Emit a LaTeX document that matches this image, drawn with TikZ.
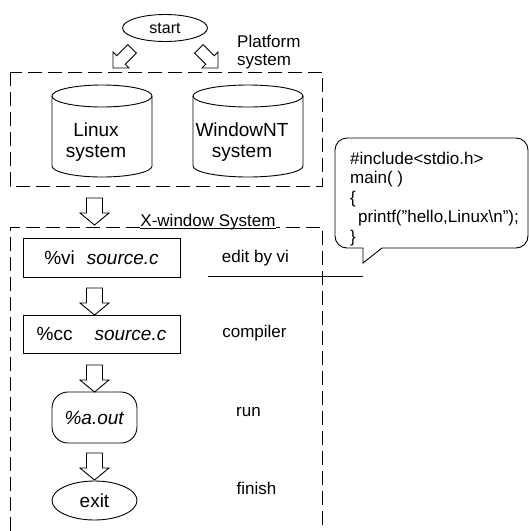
\documentclass[tikz,border=0pt]{standalone}
\usepackage{fontspec}
\setmainfont{Liberation Sans}
\usetikzlibrary{shapes.geometric}
\begin{document}
\begin{tikzpicture}[x=1pt,y=-1pt,
  every node/.style={font=\fontsize{17}{19.5}\selectfont, inner sep=0pt},
  shapeline/.style={draw, line width=0.9pt},
  dashline/.style={draw, line width=0.9pt, dash pattern=on 14pt off 6pt},
  blockarrow/.style={draw, fill=white, line width=0.9pt},
  bigtext/.style={font=\fontsize{19}{20.5}\selectfont},
  boxtext/.style={font=\fontsize{19}{21}\selectfont},
  downarrow/.pic={\path[blockarrow] (0,0) -- (-14.5,-12) -- (-8,-12) -- (-8,-27) -- (8,-27) -- (8,-12) -- (14.5,-12) -- cycle;},
  diagarrow/.pic={\path[blockarrow] (0,0) -- (-11.3,-11.3) -- (-6,-11.3) -- (-6,-27) -- (6,-27) -- (6,-11.3) -- (11.3,-11.3) -- cycle;}
]
\useasboundingbox (0,0) rectangle (529,531);

% start
\node[ellipse, shapeline, minimum width=85pt, minimum height=27pt, font=\fontsize{16}{18}\selectfont] (start) at (165,28) {start};
\pic[rotate=-45] at (113,68) {diagarrow};
\pic[rotate=45] at (218,68) {diagarrow};
\node[anchor=west, align=left, font=\fontsize{17}{18}\selectfont] (plat) at (237,52) {Platform\\system};

% platform box
\path[dashline] (10,72) rectangle (322,186);

% cylinders
\draw[shapeline] (102,96) ellipse [x radius=50, y radius=11];
\draw[shapeline] (52,96) -- (52,166) arc[start angle=180, end angle=0, x radius=50, y radius=11] -- (152,96);
\draw[shapeline] (248,96) ellipse [x radius=55, y radius=11];
\draw[shapeline] (193,96) -- (193,166) arc[start angle=180, end angle=0, x radius=55, y radius=11] -- (303,96);
\node[bigtext, align=center] (linux) at (96,142) {Linux\\system};
\node[bigtext, align=center] (winnt) at (242,142) {WindowNT\\system};

% arrow to X-window
\pic at (94.5,225) {downarrow};

% X-window box
\path[dashline] (10,531) -- (10,227) -- (322,227) -- (322,531);
\node[anchor=base, fill=white, inner xsep=0pt] (xwin) at (208,226) {X-window System};
\draw[line width=0.9pt] (xwin.south west) ++(0,-1.5) coordinate (ul1) -- (ul1 -| xwin.south east);

% steps
\node[rectangle, shapeline, minimum width=157pt, minimum height=39pt, boxtext] (vi) at (101.5,257.5) {\%vi\hspace{12pt}\textit{source.c}};
\node (editlbl) at (255.5,258) {edit by vi};
\coordinate (lineA) at (208,276);
\coordinate (lineB) at (363,276);
\draw[line width=0.9pt] (lineA) -- (lineB);

\pic at (94.5,315) {downarrow};
\node[rectangle, shapeline, minimum width=157pt, minimum height=38pt, boxtext] (cc) at (101.5,334) {\%cc\hspace{22pt}\textit{source.c}};
\node (complbl) at (254.5,333) {compiler};

\pic at (94.5,392) {downarrow};
\node[rectangle, rounded corners=16pt, shapeline, minimum width=85pt, minimum height=51pt, boxtext] (aout) at (94.5,417.5) {\textit{\%a.out}};
\node (runlbl) at (248.5,412) {run};

\pic at (94.5,480) {downarrow};
\node[ellipse, shapeline, minimum width=85pt, minimum height=39pt, boxtext] (exit) at (94.5,500.5) {exit};
\node (finlbl) at (256.5,488) {finish};

% callout
\draw[line width=0.9pt] (363,263) -- (382,248) [rounded corners=12pt] -- (528,248) -- (528,138) -- (335,138) -- (335,248) [sharp corners] -- (363,248) -- cycle;
\node[anchor=north west, align=left] (code) at (350,151.5) {\#include<stdio.h>\\main( )\\\{\\\hspace{8pt}printf(\symbol{34}hello,Linux\textbackslash n\symbol{34});\\\}};
\end{tikzpicture}
\end{document}
